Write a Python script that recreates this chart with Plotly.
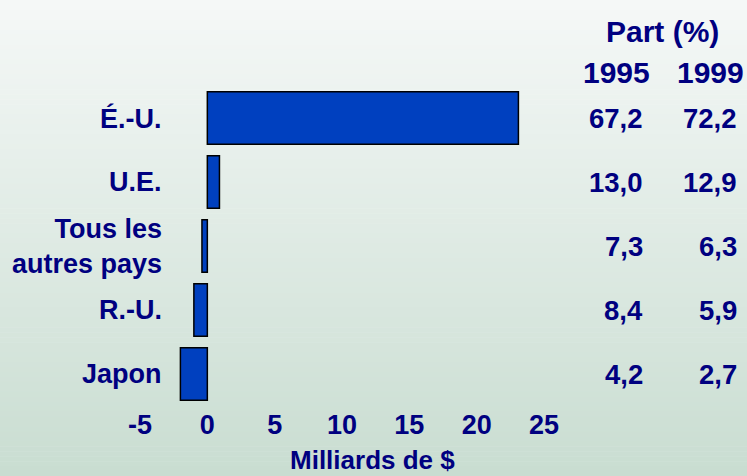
import plotly.graph_objects as go

# ---- data ----
categories = ["É.-U.", "U.E.", "Tous les<br>autres pays", "R.-U.", "Japon"]
values = [23.1, 0.9, -0.4, -1.0, -2.0]
part_1995 = ["67,2", "13,0", "7,3", "8,4", "4,2"]
part_1999 = ["72,2", "12,9", "6,3", "5,9", "2,7"]
x_ticks = [-5, 0, 5, 10, 15, 20, 25]
x_title = "Milliards de $"
header = "Part (%)"
years = ["1995", "1999"]

# ---- layout geometry (pixels) ----
W, H = 747, 476
L, R, T, B = 140, 203, 86, 70
PW, PH = W - L - R, H - T - B

def px(p):
    return (p - L) / PW

def py(p):
    return (H - B - p) / PH

NAVY = "#000080"
BAR = "#0040BF"
FONT = "Liberation Sans, Arial, sans-serif"

fig = go.Figure()
fig.add_trace(go.Bar(
    x=values, y=list(range(len(categories))), orientation="h",
    marker=dict(color=BAR, line=dict(color="black", width=1.5)),
    width=0.82, hoverinfo="skip",
))

# background gradient (top light -> bottom green-grey)
top = (0xF5, 0xF8, 0xF7)
bot = (0xC9, 0xDD, 0xD1)
n = 96
shapes = []
for i in range(n):
    t = i / (n - 1)
    c = tuple(round(top[k] + (bot[k] - top[k]) * t) for k in range(3))
    y0p = H * i / n
    y1p = H * (i + 1) / n + 0.6
    shapes.append(dict(
        type="rect", xref="paper", yref="paper", layer="below",
        x0=px(0), x1=px(W), y0=py(y1p), y1=py(y0p),
        fillcolor="rgb(%d,%d,%d)" % c, line=dict(width=0),
    ))

def f(size):
    return dict(size=size, color=NAVY, family=FONT, weight="bold")

ann = []
# category labels
for i, c in enumerate(categories):
    ann.append(dict(xref="paper", yref="y", x=px(164), y=i, text=c,
                    xanchor="right", yanchor="middle", align="right",
                    showarrow=False, font=f(27)))
# share values
for i in range(len(categories)):
    ann.append(dict(xref="paper", yref="y", x=px(645), y=i, text=part_1995[i],
                    xanchor="right", yanchor="middle", showarrow=False,
                    font=f(27.5)))
    ann.append(dict(xref="paper", yref="y", x=px(739), y=i, text=part_1999[i],
                    xanchor="right", yanchor="middle", showarrow=False,
                    font=f(27.5)))
# headers
ann.append(dict(xref="paper", yref="paper", x=px(662), y=py(31), text=header,
                xanchor="center", yanchor="middle", showarrow=False, font=f(30)))
for xc, yr in zip([616, 710], years):
    ann.append(dict(xref="paper", yref="paper", x=px(xc), y=py(72), text=yr,
                    xanchor="center", yanchor="middle", showarrow=False,
                    font=f(30)))
# axis title
ann.append(dict(xref="paper", yref="paper", x=px(372), y=py(460), text=x_title,
                xanchor="center", yanchor="middle", showarrow=False, font=f(26)))

fig.update_layout(
    width=W, height=H,
    margin=dict(l=L, r=R, t=T, b=B, pad=0),
    paper_bgcolor="rgba(0,0,0,0)",
    plot_bgcolor="rgba(0,0,0,0)",
    showlegend=False,
    shapes=shapes,
    annotations=ann,
    xaxis=dict(range=[-5, 25], tickvals=x_ticks, ticktext=[str(v) for v in x_ticks],
               showgrid=False, zeroline=False, showline=False, ticks="",
               tickfont=f(27), fixedrange=True),
    yaxis=dict(range=[len(categories) - 0.5, -0.5], showticklabels=False,
               showgrid=False, zeroline=False, showline=False, ticks="",
               fixedrange=True),
)

fig.write_html("out.html", config={"displayModeBar": False},
               post_script="document.body.style.margin='0px';document.body.style.overflow='hidden';")
